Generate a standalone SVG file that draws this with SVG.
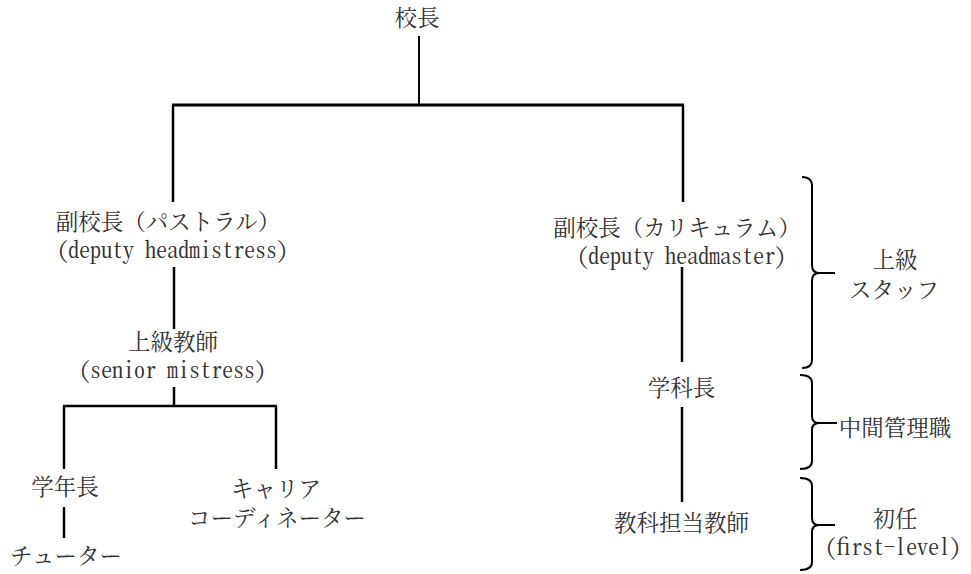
<svg xmlns="http://www.w3.org/2000/svg" width="971" height="574" viewBox="0 0 971 574">
<style>
.j{font-family:"Noto Serif CJK JP","Noto Sans CJK JP",serif;font-size:22.5px;fill:#333;text-anchor:middle}
.l{font-family:"Noto Serif CJK JP","Noto Sans CJK JP",serif;font-size:22px;fill:#333;text-anchor:middle;font-feature-settings:"hwid" 1}
.c{stroke:#000;stroke-width:2.5;fill:none}
.b{stroke:#000;stroke-width:2;fill:none}
</style>
<rect width="971" height="574" fill="#fff"/>
<g id="connectors">
<line class="c" x1="419" y1="36" x2="419" y2="105" style="stroke-width:2"/>
<line class="c" x1="172" y1="105" x2="684" y2="105" style="stroke-width:3"/>
<line class="c" x1="173" y1="105" x2="173" y2="202"/>
<line class="c" x1="683" y1="105" x2="683" y2="202"/>
<line class="c" x1="174" y1="267" x2="174" y2="329"/>
<line class="c" x1="174" y1="387" x2="174" y2="406"/>
<line class="c" x1="63" y1="406" x2="277" y2="406"/>
<line class="c" x1="64" y1="406" x2="64" y2="469"/>
<line class="c" x1="276" y1="406" x2="276" y2="469"/>
<line class="c" x1="64" y1="507" x2="64" y2="538"/>
<line class="c" x1="682" y1="267" x2="682" y2="362"/>
<line class="c" x1="682" y1="407" x2="682" y2="502"/>
</g>
<g id="principal"><text class="j" x="417" y="26">校長</text></g>
<g id="deputy-pastoral"><text class="j" x="168" y="230">副校長（パストラル）</text><text class="l" x="172.5" y="258">(deputy headmistress)</text></g>
<g id="deputy-curriculum"><text class="j" x="677" y="236">副校長（カリキュラム）</text><text class="l" x="681.5" y="264">(deputy headmaster)</text></g>
<g id="senior-mistress"><text class="j" x="173" y="350">上級教師</text><text class="l" x="172.5" y="378">(senior mistress)</text></g>
<g id="year-head"><text class="j" x="65" y="495">学年長</text></g>
<g id="tutor"><text class="j" x="66" y="564">チューター</text></g>
<g id="career"><text class="j" x="276" y="497">キャリア</text><text class="j" x="277" y="526">コーディネーター</text></g>
<g id="dept-head"><text class="j" x="681.5" y="396">学科長</text></g>
<g id="subject-teacher"><text class="j" x="681.5" y="531">教科担当教師</text></g>
<g id="brace-senior"><path class="b" d="M802 177 Q812 177 812 186 L812 265 Q812 273 819 273 L835 273 M819 273 Q812 273 812 281 L812 360 Q812 368 802 368"/><text class="j" x="895" y="268">上級</text><text class="j" x="894" y="298">スタッフ</text></g>
<g id="brace-middle"><path class="b" d="M800 375 Q812 375 812 383 L812 416 Q812 423 819 423 L837 423 M819 423 Q812 423 812 430 L812 461 Q812 469 800 469"/><text class="j" x="895" y="436">中間管理職</text></g>
<g id="brace-first"><path class="b" d="M800 478 Q812 478 812 486 L812 518 Q812 525 819 525 L835 525 M819 525 Q812 525 812 532 L812 562 Q812 570 800 570"/><text class="j" x="895" y="527">初任</text><text class="l" x="893" y="555">(first-level)</text></g>
</svg>
